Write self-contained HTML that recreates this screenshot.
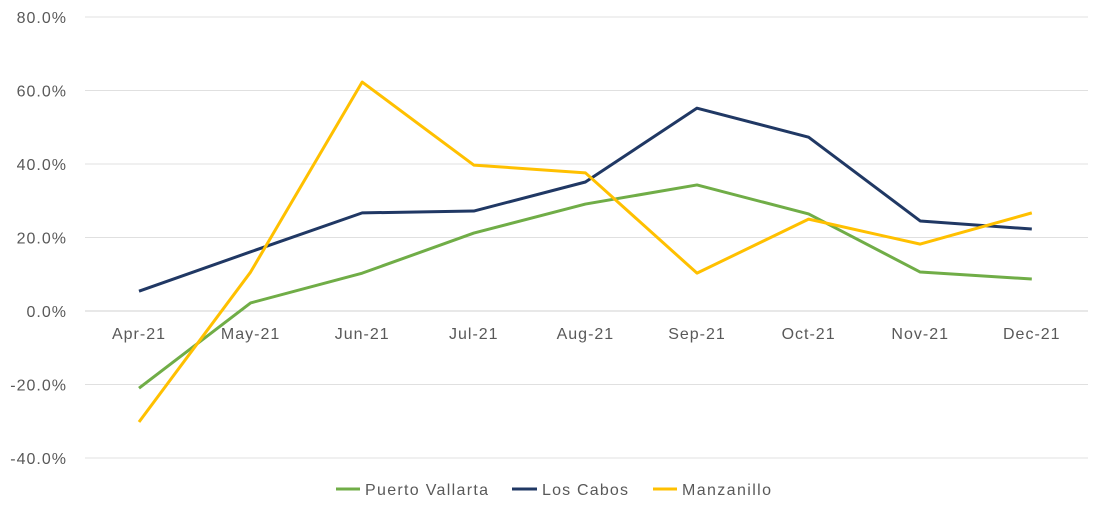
<!DOCTYPE html>
<html><head><meta charset="utf-8"><style>
body{margin:0;background:#fff;font-family:"Liberation Sans",sans-serif;}
svg text{font-family:"Liberation Sans",sans-serif;fill:#595959;font-size:16px;letter-spacing:1px;}
</style></head><body>
<svg id="chart" width="1103" height="512" xmlns="http://www.w3.org/2000/svg">
<g id="grid"></g><g id="ylabels"></g><g id="xlabels"></g><g id="lines"></g>
<g id="legend">
 <line x1="336" y1="489" x2="360" y2="489" stroke="#70ad47" stroke-width="3"/>
 <text x="365" y="495" textLength="124">Puerto Vallarta</text>
 <line x1="512" y1="489" x2="537" y2="489" stroke="#203864" stroke-width="3"/>
 <text x="542" y="495" textLength="87">Los Cabos</text>
 <line x1="653" y1="489" x2="677" y2="489" stroke="#ffc000" stroke-width="3"/>
 <text x="682" y="495" textLength="90">Manzanillo</text>
</g>
</svg>
<script>
const categories=["Apr-21","May-21","Jun-21","Jul-21","Aug-21","Sep-21","Oct-21","Nov-21","Dec-21"];
const puertoVallarta=[-21.0,2.2,10.3,21.2,29.1,34.3,26.4,10.6,8.7];
const losCabos=[5.4,16.1,26.7,27.2,35.1,55.2,47.3,24.5,22.3];
const manzanillo=[-30.2,10.6,62.3,39.7,37.6,10.3,25.0,18.2,26.7];
const yTicks=[80,60,40,20,0,-20,-40];
const NS="http://www.w3.org/2000/svg";
const y=v=>311-v*3.675;
const x=i=>139+i*111.6;
function mk(tag,attrs,parent){const e=document.createElementNS(NS,tag);for(const k in attrs)e.setAttribute(k,attrs[k]);document.getElementById(parent).appendChild(e);return e;}
yTicks.forEach(t=>{
 const g=mk('line',{x1:85,x2:1088,y1:y(t),y2:y(t),stroke:t===0?'#d0d0d0':'#e0e0e0','stroke-width':1},'grid');
 
 
 const l=mk('text',{x:67,y:y(t)+6,'text-anchor':'end'},'ylabels');
 l.textContent=t.toFixed(1)+'%';
 
 
});
categories.forEach((c,i)=>{
 const l=mk('text',{x:x(i),y:339,'text-anchor':'middle'},'xlabels');
 l.textContent=c;
 
 
});
[[puertoVallarta,'#70ad47','series-puerto-vallarta'],[losCabos,'#203864','series-los-cabos'],[manzanillo,'#ffc000','series-manzanillo']].forEach(([d,c,n])=>{
 const p=mk('polyline',{points:d.map((v,i)=>x(i)+','+y(v)).join(' '),fill:'none',stroke:c,'stroke-width':3,'stroke-linejoin':'round'},'lines');
 
 
});
</script>
</body></html>
